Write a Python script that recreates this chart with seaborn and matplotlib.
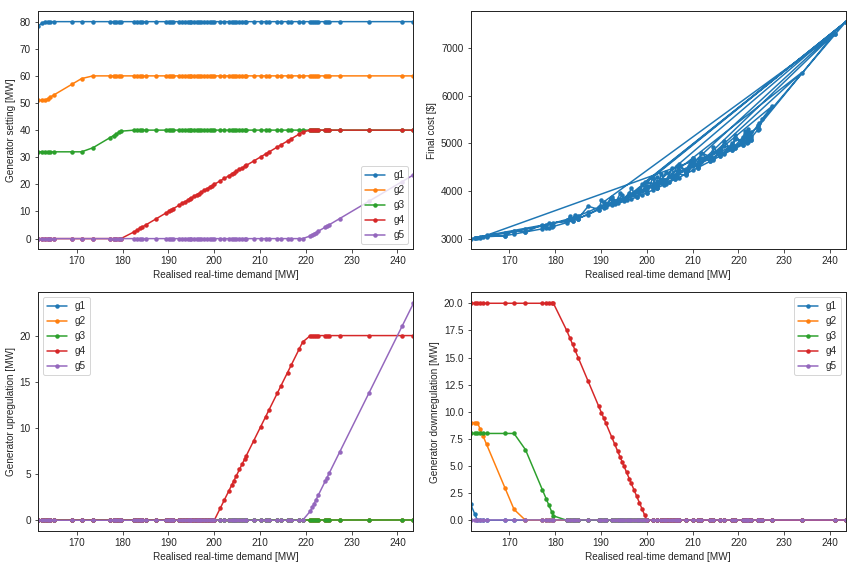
import matplotlib
matplotlib.use("Agg")
import matplotlib.pyplot as plt
import seaborn as sns

# realised real-time demand samples [MW] (sorted)
demand = [
    161.5, 162.4, 163.0, 163.6, 164.2, 165.0, 169.0, 171.0, 173.5, 177.2,
    178.0, 178.6, 179.2, 179.6, 182.5, 183.2, 183.8, 184.3, 185.0, 187.2,
    189.5, 190.1, 190.6, 191.0, 192.3, 193.0, 193.6, 194.2, 194.6, 195.0,
    195.6, 196.2, 196.6, 197.2, 197.8, 198.4, 199.0, 199.5, 200.0, 201.3,
    202.2, 203.2, 203.8, 204.2, 204.8, 205.5, 206.1, 206.6, 207.0, 208.6,
    210.1, 211.2, 211.9, 213.8, 214.5, 216.0, 216.8, 218.6, 219.3, 221.0,
    221.4, 221.8, 222.2, 222.7, 224.2, 224.6, 225.1, 227.4, 233.8, 241.0,
    243.5]

generators = ["g1", "g2", "g3", "g4", "g5"]

# generator settings [MW]
g1_set = [
    78.5, 79.4, 80, 80, 80, 80, 80, 80, 80, 80,
    80, 80, 80, 80, 80, 80, 80, 80, 80, 80,
    80, 80, 80, 80, 80, 80, 80, 80, 80, 80,
    80, 80, 80, 80, 80, 80, 80, 80, 80, 80,
    80, 80, 80, 80, 80, 80, 80, 80, 80, 80,
    80, 80, 80, 80, 80, 80, 80, 80, 80, 80,
    80, 80, 80, 80, 80, 80, 80, 80, 80, 80,
    80]
g2_set = [
    51.0, 51.0, 51.0, 51.6, 52.2, 53.0, 57.0, 59.0, 60, 60,
    60, 60, 60, 60, 60, 60, 60, 60, 60, 60,
    60, 60, 60, 60, 60, 60, 60, 60, 60, 60,
    60, 60, 60, 60, 60, 60, 60, 60, 60, 60,
    60, 60, 60, 60, 60, 60, 60, 60, 60, 60,
    60, 60, 60, 60, 60, 60, 60, 60, 60, 60,
    60, 60, 60, 60, 60, 60, 60, 60, 60, 60,
    60]
g3_set = [
    32, 32, 32, 32, 32, 32, 32, 32, 33.5, 37.2,
    38.0, 38.6, 39.2, 39.6, 40, 40, 40, 40, 40, 40,
    40, 40, 40, 40, 40, 40, 40, 40, 40, 40,
    40, 40, 40, 40, 40, 40, 40, 40, 40, 40,
    40, 40, 40, 40, 40, 40, 40, 40, 40, 40,
    40, 40, 40, 40, 40, 40, 40, 40, 40, 40,
    40, 40, 40, 40, 40, 40, 40, 40, 40, 40,
    40]
g4_set = [
    0, 0, 0, 0, 0, 0, 0, 0, 0, 0,
    0, 0, 0, 0, 2.5, 3.2, 3.8, 4.3, 5.0, 7.2,
    9.5, 10.1, 10.6, 11.0, 12.3, 13.0, 13.6, 14.2, 14.6, 15.0,
    15.6, 16.2, 16.6, 17.2, 17.8, 18.4, 19.0, 19.5, 20.0, 21.3,
    22.2, 23.2, 23.8, 24.2, 24.8, 25.5, 26.1, 26.6, 27.0, 28.6,
    30.1, 31.2, 31.9, 33.8, 34.5, 36.0, 36.8, 38.6, 39.3, 40,
    40, 40, 40, 40, 40, 40, 40, 40, 40, 40,
    40]
g5_set = [
    0, 0, 0, 0, 0, 0, 0, 0, 0, 0,
    0, 0, 0, 0, 0, 0, 0, 0, 0, 0,
    0, 0, 0, 0, 0, 0, 0, 0, 0, 0,
    0, 0, 0, 0, 0, 0, 0, 0, 0, 0,
    0, 0, 0, 0, 0, 0, 0, 0, 0, 0,
    0, 0, 0, 0, 0, 0, 0, 0, 0, 1.0,
    1.4, 1.8, 2.2, 2.7, 4.2, 4.6, 5.1, 7.4, 13.8, 21.0,
    23.5]

# upregulation [MW]
g1_up = [
    0, 0, 0, 0, 0, 0, 0, 0, 0, 0,
    0, 0, 0, 0, 0, 0, 0, 0, 0, 0,
    0, 0, 0, 0, 0, 0, 0, 0, 0, 0,
    0, 0, 0, 0, 0, 0, 0, 0, 0, 0,
    0, 0, 0, 0, 0, 0, 0, 0, 0, 0,
    0, 0, 0, 0, 0, 0, 0, 0, 0, 0,
    0, 0, 0, 0, 0, 0, 0, 0, 0, 0,
    0]
g2_up = list(g1_up)
g3_up = list(g1_up)
g4_up = [
    0, 0, 0, 0, 0, 0, 0, 0, 0, 0,
    0, 0, 0, 0, 0, 0, 0, 0, 0, 0,
    0, 0, 0, 0, 0, 0, 0, 0, 0, 0,
    0, 0, 0, 0, 0, 0, 0, 0, 0, 1.3,
    2.2, 3.2, 3.8, 4.2, 4.8, 5.5, 6.1, 6.6, 7.0, 8.6,
    10.1, 11.2, 11.9, 13.8, 14.5, 16.0, 16.8, 18.6, 19.3, 20,
    20, 20, 20, 20, 20, 20, 20, 20, 20, 20,
    20]
g5_up = [
    0, 0, 0, 0, 0, 0, 0, 0, 0, 0,
    0, 0, 0, 0, 0, 0, 0, 0, 0, 0,
    0, 0, 0, 0, 0, 0, 0, 0, 0, 0,
    0, 0, 0, 0, 0, 0, 0, 0, 0, 0,
    0, 0, 0, 0, 0, 0, 0, 0, 0, 0,
    0, 0, 0, 0, 0, 0, 0, 0, 0, 1.0,
    1.4, 1.8, 2.2, 2.7, 4.2, 4.6, 5.1, 7.4, 13.8, 21.0,
    23.5]

# downregulation [MW]
g1_down = [
    1.5, 0.6, 0, 0, 0, 0, 0, 0, 0, 0,
    0, 0, 0, 0, 0, 0, 0, 0, 0, 0,
    0, 0, 0, 0, 0, 0, 0, 0, 0, 0,
    0, 0, 0, 0, 0, 0, 0, 0, 0, 0,
    0, 0, 0, 0, 0, 0, 0, 0, 0, 0,
    0, 0, 0, 0, 0, 0, 0, 0, 0, 0,
    0, 0, 0, 0, 0, 0, 0, 0, 0, 0,
    0]
g2_down = [
    9.0, 9.0, 9.0, 8.4, 7.8, 7.0, 3.0, 1.0, 0, 0,
    0, 0, 0, 0, 0, 0, 0, 0, 0, 0,
    0, 0, 0, 0, 0, 0, 0, 0, 0, 0,
    0, 0, 0, 0, 0, 0, 0, 0, 0, 0,
    0, 0, 0, 0, 0, 0, 0, 0, 0, 0,
    0, 0, 0, 0, 0, 0, 0, 0, 0, 0,
    0, 0, 0, 0, 0, 0, 0, 0, 0, 0,
    0]
g3_down = [
    8, 8, 8, 8, 8, 8, 8, 8, 6.5, 2.8,
    2.0, 1.4, 0.8, 0.4, 0, 0, 0, 0, 0, 0,
    0, 0, 0, 0, 0, 0, 0, 0, 0, 0,
    0, 0, 0, 0, 0, 0, 0, 0, 0, 0,
    0, 0, 0, 0, 0, 0, 0, 0, 0, 0,
    0, 0, 0, 0, 0, 0, 0, 0, 0, 0,
    0, 0, 0, 0, 0, 0, 0, 0, 0, 0,
    0]
g4_down = [
    20, 20, 20, 20, 20, 20, 20, 20, 20, 20,
    20, 20, 20, 20, 17.5, 16.8, 16.2, 15.7, 15.0, 12.8,
    10.5, 9.9, 9.4, 9.0, 7.7, 7.0, 6.4, 5.8, 5.4, 5.0,
    4.4, 3.8, 3.4, 2.8, 2.2, 1.6, 1.0, 0.5, 0.0, 0,
    0, 0, 0, 0, 0, 0, 0, 0, 0, 0,
    0, 0, 0, 0, 0, 0, 0, 0, 0, 0,
    0, 0, 0, 0, 0, 0, 0, 0, 0, 0,
    0]
g5_down = list(g1_up)

# final cost per scenario, in scenario order (not sorted by demand)
cost_demand = [
    161.5, 162.4, 163.0, 163.6, 164.2, 165.0, 169.0, 171.0, 173.5, 177.2,
    178.6, 179.6, 182.5, 183.8, 185.0, 187.2, 189.5, 190.6, 192.3, 193.6,
    195.0, 196.6, 197.8, 199.0, 200.0, 201.3, 202.2, 203.8, 204.8, 206.1,
    207.0, 208.6, 210.1, 211.2, 213.8, 214.5, 216.0, 218.6, 219.3, 221.0,
    222.2, 222.7,
    185.0, 187.2, 189.5, 190.1, 191.0, 192.3, 193.0, 194.2, 195.6, 196.6,
    197.8, 199.5, 200.0, 201.3, 202.2, 203.2, 204.2, 205.5, 206.1, 207.0,
    208.6, 210.1, 211.2, 211.9, 213.8, 214.5, 216.0, 216.8, 218.6, 219.3,
    221.0, 221.4, 221.8, 222.2, 222.7,
    165.0, 169.0, 171.0, 173.5, 177.2, 178.0, 178.6, 179.2, 179.6, 182.5,
    183.2, 183.8, 184.3, 185.0,
    162.4, 163.6, 165.0, 169.0, 171.0, 173.5, 177.2, 178.0, 179.2, 182.5,
    183.2, 184.3, 185.0, 187.2, 189.5, 190.1, 191.0, 192.3, 193.0, 194.2,
    194.6, 195.6,
    243.5,
    196.2, 196.6, 197.2, 198.4, 199.5, 200.0, 201.3, 202.2, 203.2, 204.2,
    205.5, 206.6, 208.6, 210.1, 211.9,
    241.0,
    190.6, 191.0, 192.3, 193.6, 194.6, 195.0, 196.2, 197.2, 198.4, 199.0,
    200.0, 201.3, 202.2, 203.8, 204.8, 206.1, 207.0, 208.6, 210.1,
    243.5,
    199.0, 199.5, 200.0, 201.3, 202.2, 203.2, 204.2, 205.5, 206.6, 208.6,
    210.1, 211.2, 211.9, 213.8,
    233.8,
    205.5, 206.1, 207.0, 208.6, 210.1, 211.2, 211.9, 213.8, 214.5, 216.0,
    216.8, 218.6, 219.3, 221.0, 221.4, 221.8, 222.2, 222.7, 224.2, 224.6,
    225.1,
    227.4,
    213.8, 214.5, 216.0, 216.8, 218.6, 219.3, 221.0, 221.8, 222.2, 222.7,
    224.2, 224.6,
    243.5,
    201.3, 202.2, 203.8, 204.8, 206.6, 208.6, 210.1, 211.2, 213.8, 214.5,
    216.0, 216.8, 218.6, 219.3, 221.0, 222.2, 222.7, 224.2,
    241.0]
cost_value = [
    3000, 3008, 3015, 3022, 3030, 3040, 3060, 3095, 3140, 3205,
    3230, 3255, 3335, 3375, 3420, 3505, 3610, 3650, 3700, 3740,
    3780, 3830, 3870, 3920, 3960, 4020, 4060, 4130, 4180, 4240,
    4280, 4360, 4435, 4490, 4620, 4655, 4730, 4860, 4890, 4970,
    5030, 5060,
    3420, 3680, 3610, 3800, 3660, 3880, 3720, 3950, 3800, 4060,
    3870, 4180, 3960, 4270, 4060, 4360, 4150, 4480, 4240, 4560,
    4360, 4700, 4490, 4800, 4620, 4920, 4730, 5040, 4860, 5170,
    4970, 5250, 5000, 5300, 5060,
    3070, 3060, 3170, 3140, 3290, 3225, 3320, 3250, 3330, 3360,
    3470, 3375, 3500, 3420,
    3020, 3040, 3065, 3110, 3145, 3195, 3265, 3285, 3315, 3400,
    3420, 3455, 3480, 3560, 3660, 3690, 3720, 3760, 3785, 3820,
    3835, 3865,
    7550,
    3890, 3905, 3925, 3965, 4010, 4030, 4090, 4130, 4175, 4220,
    4285, 4340, 4440, 4515, 4610,
    7300,
    3770, 3720, 3830, 3800, 3905, 3840, 3960, 3920, 4040, 3990,
    4100, 4060, 4200, 4160, 4320, 4270, 4430, 4400, 4590,
    7550,
    4140, 4060, 4180, 4150, 4290, 4230, 4390, 4300, 4520, 4450,
    4700, 4600, 4800, 4720,
    6480,
    4350, 4300, 4420, 4400, 4580, 4520, 4680, 4650, 4820, 4770,
    4940, 4900, 5080, 5030, 5190, 5100, 5240, 5160, 5380, 5300,
    5500,
    5780,
    4700, 4660, 4820, 4780, 4950, 4900, 5080, 5020, 5150, 5100,
    5280, 5420,
    7550,
    4100, 4070, 4220, 4180, 4360, 4330, 4540, 4500, 4740, 4680,
    4860, 4800, 5000, 4950, 5130, 5080, 5230, 5330,
    7300]

sns.set_style("ticks")
plt.rcParams["font.family"] = ["Liberation Sans", "DejaVu Sans"]
plt.rcParams.update({
    "font.size": 10,
    "axes.labelsize": 10,
    "xtick.labelsize": 10,
    "ytick.labelsize": 10,
    "legend.fontsize": 10,
    "xtick.major.size": 3.5,
    "ytick.major.size": 3.5,
    "axes.linewidth": 1.0,
})

fig, axes = plt.subplots(2, 2, figsize=(856 / 72, 568 / 72), dpi=72)
xlabel = "Realised real-time demand [MW]"
style = dict(marker="o", markersize=4.5, markeredgewidth=0, linewidth=1.5)


def gen_panel(ax, series, ylabel, loc):
    for name, vals in zip(generators, series):
        sns.lineplot(x=demand, y=vals, ax=ax, label=name, sort=False,
                     estimator=None, **style)
    ax.set_xlim(min(demand), max(demand))
    ax.set_xlabel(xlabel)
    ax.set_ylabel(ylabel)
    ax.legend(loc=loc)


gen_panel(axes[0, 0], [g1_set, g2_set, g3_set, g4_set, g5_set],
          "Generator setting [MW]", "lower right")
gen_panel(axes[1, 0], [g1_up, g2_up, g3_up, g4_up, g5_up],
          "Generator upregulation [MW]", "upper left")
gen_panel(axes[1, 1], [g1_down, g2_down, g3_down, g4_down, g5_down],
          "Generator downregulation [MW]", "upper right")

ax = axes[0, 1]
sns.lineplot(x=cost_demand, y=cost_value, ax=ax, sort=False,
             estimator=None, color="C0", **style)
ax.set_xlim(min(demand), max(demand))
ax.set_xlabel(xlabel)
ax.set_ylabel("Final cost [$]")

fig.subplots_adjust(left=0.0444, right=0.9883, top=0.981, bottom=0.065,
                    wspace=0.152, hspace=0.18)
plt.savefig("out.png", dpi=72)
